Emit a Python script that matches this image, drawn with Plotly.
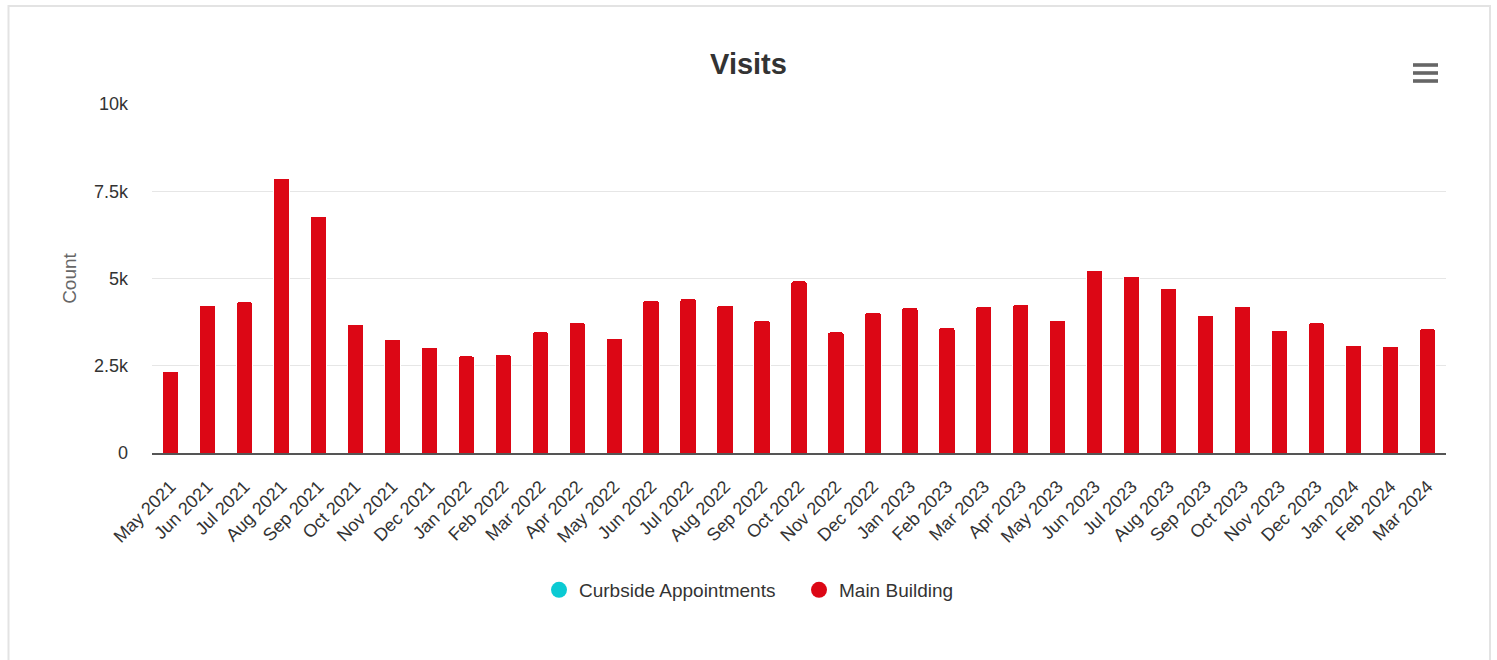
import plotly.graph_objects as go

months = ["May 2021", "Jun 2021", "Jul 2021", "Aug 2021", "Sep 2021", "Oct 2021",
          "Nov 2021", "Dec 2021", "Jan 2022", "Feb 2022", "Mar 2022", "Apr 2022",
          "May 2022", "Jun 2022", "Jul 2022", "Aug 2022", "Sep 2022", "Oct 2022",
          "Nov 2022", "Dec 2022", "Jan 2023", "Feb 2023", "Mar 2023", "Apr 2023",
          "May 2023", "Jun 2023", "Jul 2023", "Aug 2023", "Sep 2023", "Oct 2023",
          "Nov 2023", "Dec 2023", "Jan 2024", "Feb 2024", "Mar 2024"]

curbside = [0, 0, 0, 0, 0, 0, 0, 0, 0, 0, 0, 0, 0, 0, 0, 0, 0, 0,
            0, 0, 0, 0, 0, 0, 0, 0, 0, 0, 0, 0, 0, 0, 0, 0, 0]

main_building = [2340, 4240, 4330, 7870, 6780, 3680, 3250, 3030, 2780, 2820,
                 3470, 3730, 3290, 4370, 4420, 4240, 3810, 4930, 3470, 4030,
                 4160, 3590, 4200, 4250, 3810, 5240, 5060, 4720, 3940, 4200,
                 3520, 3730, 3080, 3050, 3560]

y_tick_vals = [0, 2500, 5000, 7500, 10000]
y_tick_text = ["0", "2.5k", "5k", "7.5k", "10k"]

FONT = "Liberation Sans, Arial, Helvetica, sans-serif"
CYAN = "#0bcad3"
RED = "#dc0715"

FIG_W, FIG_H = 1497, 660
# plot-area geometry (pixels) for placing decorations
L, R, T, B = 152, 1446, 104, 453
W, H = R - L, B - T


def px_x(px):
    return (px - L) / W


def px_y(py):
    return (B - py) / H


fig = go.Figure()

fig.add_trace(go.Bar(
    x=months, y=curbside, name="Curbside Appointments",
    marker=dict(color=CYAN, line=dict(width=0)),
    showlegend=False, legendgroup="c",
))
fig.add_trace(go.Bar(
    x=months, y=main_building, name="Main Building",
    marker=dict(color=RED, line=dict(color="white", width=1)),
    showlegend=False, legendgroup="m",
))
# legend entries with circle symbols
fig.add_trace(go.Scatter(
    x=[None], y=[None], mode="markers", name="Curbside Appointments",
    marker=dict(color=CYAN, size=16, symbol="circle"),
    legendgroup="c", hoverinfo="skip",
))
fig.add_trace(go.Scatter(
    x=[None], y=[None], mode="markers", name="Main Building",
    marker=dict(color=RED, size=16, symbol="circle"),
    legendgroup="m", hoverinfo="skip",
))

shapes = [
    # outer container border
    dict(type="rect", xref="paper", yref="paper",
         x0=px_x(8.5), x1=px_x(1490), y0=px_y(720), y1=px_y(6),
         line=dict(color="#e3e3e3", width=2), fillcolor="rgba(0,0,0,0)",
         layer="below"),
]
# hamburger menu icon
for cy in (65, 73, 81):
    shapes.append(dict(type="rect", xref="paper", yref="paper",
                       x0=px_x(1413), x1=px_x(1438), y0=px_y(cy + 1.8), y1=px_y(cy - 1.8),
                       line=dict(width=0), fillcolor="#666666", layer="above"))

fig.update_layout(
    width=FIG_W, height=FIG_H,
    margin=dict(l=L, r=FIG_W - R, t=T, b=FIG_H - B),
    paper_bgcolor="white", plot_bgcolor="white",
    barmode="stack", bargap=0.56, barcornerradius=2,
    font=dict(family=FONT, color="#333333"),
    title=dict(text="<b>Visits</b>", x=0.5, xanchor="center", xref="container",
               y=1 - 64 / FIG_H, yanchor="middle", yref="container",
               font=dict(size=29, color="#333333", family=FONT)),
    xaxis=dict(
        type="category", tickangle=-45, tickfont=dict(size=18, color="#333333"),
        showgrid=False, showline=True, linecolor="#555555", linewidth=2,
        ticks="", zeroline=False, fixedrange=True, ticklabelstandoff=14,
    ),
    yaxis=dict(
        range=[0, 10000], tickvals=y_tick_vals, ticktext=y_tick_text,
        tickfont=dict(size=18, color="#333333"),
        showgrid=True, gridcolor="#e6e6e6", gridwidth=1,
        zeroline=False, showline=False, ticks="", ticklabelstandoff=23,
        title=dict(text="Count", font=dict(size=19, color="#666666"), standoff=12),
        fixedrange=True,
    ),
    legend=dict(
        orientation="h", x=539 / FIG_W, xanchor="left", xref="container",
        y=1 - 590 / FIG_H, yanchor="middle", yref="container",
        font=dict(size=19, color="#333333", family=FONT),
        itemsizing="trace", bgcolor="rgba(0,0,0,0)",
        entrywidth=215, entrywidthmode="pixels",
    ),
    shapes=shapes,
    showlegend=True,
)

fig.write_html("out.html", config={"displayModeBar": False},
               post_script="document.body.style.margin='0px';")
